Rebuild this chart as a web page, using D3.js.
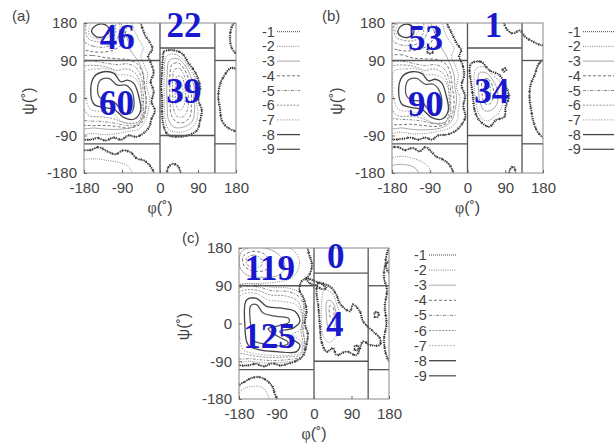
<!DOCTYPE html>
<html>
<head>
<meta charset="utf-8">
<script src="https://cdn.jsdelivr.net/npm/d3@7"></script>
<style>
  body { margin: 0; background: #fff; }
  text { font-family: "Liberation Sans", Arial, sans-serif; fill: #444; }
</style>
</head>
<body>
<svg id="fig" width="614" height="446"></svg>
<script>
// ---- DATA ----
var ticks = [-180, -90, 0, 90, 180];
var levels = [-1, -2, -3, -4, -5, -6, -7, -8, -9];
var panelNames = ["(a)", "(b)", "(c)"];

// region borders [phi1, psi1, phi2, psi2]
var borders = [
  [0, -180, 0, 180], [130, -180, 130, 180],
  [-180, 90, 0, 90], [-180, -110, 0, -110],
  [0, 120, 130, 120], [0, -90, 130, -90],
  [130, 90, 180, 90], [130, -110, 180, -110]
];

// number of residues per region: beta, top middle, alpha-R, alpha-L
var countsA = [46, 22, 60, 39];
var countsB = [53, 1, 90, 34];
var countsC = [119, 0, 125, 4];
// where each count sits (phi, psi)
var anchorsA = [[-101, 118], [57, 146], [-103, -41], [56, -12]];
var anchorsB = [[-100, 116], [62, 146], [-100, -43], [58, -12]];
var anchorsC = [[-106, 103], [52, 132], [-107, -58], [50, -29]];

// contour rings [level, [[phi, psi], ...]]
var ringsA = [
  [-1, [[-185,185],[-50,185],[-42,168],[-35,150],[-25,135],[-18,118],[-28,100],[-22,85],[-15,60],[-22,40],[-15,15],[-20,-10],[-12,-30],[-20,-50],[-26,-70],[-40,-85],[-55,-93],[-75,-90],[-92,-100],[-110,-95],[-128,-102],[-148,-96],[-165,-100],[-185,-95]]],
  [-2, [[-185,175],[-110,188],[-70,182],[-60,160],[-50,140],[-40,120],[-45,100],[-38,80],[-30,60],[-32,30],[-25,0],[-28,-30],[-35,-55],[-50,-75],[-75,-80],[-100,-85],[-130,-88],[-160,-85],[-185,-85]]],
  [-3, [[-185,165],[-150,188],[-100,188],[-85,160],[-75,135],[-70,115],[-60,100],[-50,85],[-40,60],[-38,30],[-33,0],[-35,-30],[-45,-55],[-65,-70],[-95,-75],[-125,-75],[-155,-72],[-185,-70]]],
  [-4, [[-185,98],[-160,102],[-130,97],[-100,94],[-75,92],[-52,80],[-40,55],[-36,25],[-33,-5],[-35,-35],[-45,-62],[-72,-72],[-105,-68],[-135,-66],[-165,-66],[-185,-62]]],
  [-4, [[-185,120],[-165,112],[-140,110],[-110,115],[-90,130],[-82,155],[-80,188],[-185,190]]],
  [-5, [[-185,84],[-155,88],[-125,83],[-100,80],[-76,82],[-56,72],[-44,48],[-40,15],[-39,-15],[-40,-42],[-52,-64],[-80,-66],[-110,-60],[-140,-56],[-170,-55],[-185,-50]]],
  [-5, [[-178,135],[-160,125],[-135,122],[-112,130],[-98,150],[-95,175],[-100,190],[-175,190]]],
  [-6, [[-183,74],[-150,78],[-122,73],[-102,66],[-82,70],[-62,63],[-48,40],[-44,5],[-43,-30],[-50,-56],[-80,-60],[-110,-50],[-140,-45],[-168,-42],[-184,-15],[-186,30]]],
  [-6, [[-172,145],[-150,135],[-128,135],[-108,148],[-105,170],[-110,188],[-170,188]]],
  [-7, [[-176,64],[-145,70],[-115,68],[-100,56],[-82,56],[-62,50],[-48,30],[-42,-5],[-41,-42],[-56,-60],[-88,-58],[-112,-38],[-138,-32],[-164,-28],[-176,0],[-178,35]]],
  [-7, [[-168,152],[-148,142],[-125,145],[-112,160],[-114,178],[-130,186],[-160,185]]],
  [-8, [[-164,11],[-156,51],[-133,63],[-109,59],[-93,39],[-77,43],[-62,35],[-50,3],[-46,-31],[-62,-51],[-85,-47],[-109,-27],[-133,-23],[-156,-15]]],
  [-8, [[-162,160],[-152,174],[-138,178],[-124,172],[-120,160],[-130,149],[-148,146]]],
  [-9, [[-148,19],[-141,43],[-121,47],[-101,31],[-81,31],[-66,15],[-62,-21],[-70,-37],[-89,-33],[-109,-9],[-133,-5],[-144,3]]],
  // alpha-L island
  [-1, [[9,111],[28,115],[52,107],[68,83],[80,67],[88,51],[95,27],[91,-5],[99,-29],[95,-53],[88,-77],[68,-89],[44,-93],[20,-89],[9,-69],[5,-37],[5,-5],[3,27],[5,67],[7,99]]],
  [-2, [[15,100],[35,105],[55,92],[70,70],[82,50],[88,20],[86,-10],[90,-35],[84,-60],[65,-78],[40,-82],[20,-75],[12,-50],[10,-20],[10,20],[10,60]]],
  [-3, [[22,90],[40,95],[58,80],[70,58],[80,30],[80,0],[82,-30],[75,-58],[55,-70],[33,-70],[20,-52],[17,-20],[16,20],[17,60]]],
  [-4, [[28,80],[44,84],[58,68],[68,45],[74,15],[74,-15],[72,-42],[58,-58],[40,-58],[27,-42],[24,-10],[23,30],[24,62]]],
  [-5, [[34,68],[48,70],[58,52],[65,28],[67,0],[65,-28],[55,-45],[40,-44],[32,-25],[30,5],[30,40]]],
  [-6, [[40,52],[52,50],[58,30],[60,5],[56,-20],[46,-30],[38,-15],[36,15],[37,40]]],
  [-7, [[45,35],[53,30],[54,10],[50,-8],[44,-5],[42,15]]],
  // wrap-around pieces
  [-1, [[185,65],[168,72],[155,58],[143,35],[138,5],[142,-25],[147,-55],[162,-72],[185,-78]]],
  [-1, [[185,188],[172,175],[166,150],[170,120],[185,105]]],
  [-1, [[18,-188],[20,-166],[32,-158],[44,-166],[48,-188]]],
  [-1, [[-185,-128],[-165,-125],[-145,-118],[-125,-128],[-105,-135],[-88,-126],[-70,-130],[-55,-145],[-38,-150],[-22,-165],[-15,-188],[-185,-188]]],
  [-2, [[-185,-152],[-155,-146],[-125,-150],[-95,-155],[-75,-165],[-65,-188],[-185,-190]]]
];

var ringsB = [
  [-1, [[-185,185],[-55,185],[-45,170],[-35,150],[-25,130],[-15,115],[-20,100],[-12,80],[-8,55],[-14,30],[-6,5],[-10,-20],[-5,-45],[-15,-65],[-30,-80],[-50,-88],[-70,-90],[-85,-100],[-100,-95],[-118,-100],[-135,-95],[-155,-98],[-185,-95]]],
  [-1, [[-96,110],[-92,121],[-83,118],[-85,107]]],
  [-2, [[-185,175],[-100,188],[-62,182],[-55,160],[-45,140],[-32,120],[-38,100],[-30,80],[-22,55],[-26,25],[-18,0],[-22,-30],[-25,-55],[-42,-72],[-70,-80],[-100,-85],[-130,-86],[-160,-82],[-185,-82]]],
  [-3, [[-185,160],[-150,188],[-95,188],[-80,160],[-70,138],[-60,118],[-50,100],[-40,78],[-32,55],[-30,25],[-26,0],[-30,-30],[-38,-55],[-58,-70],[-90,-76],[-125,-76],[-155,-72],[-185,-70]]],
  [-4, [[-185,98],[-160,104],[-130,96],[-100,94],[-72,92],[-50,80],[-40,55],[-36,25],[-32,-5],[-35,-35],[-46,-58],[-70,-68],[-105,-66],[-135,-63],[-165,-64],[-185,-60]]],
  [-4, [[-185,125],[-165,115],[-140,113],[-110,118],[-88,132],[-78,158],[-76,188],[-185,190]]],
  [-5, [[-185,84],[-155,88],[-125,82],[-100,78],[-76,80],[-56,70],[-44,45],[-40,15],[-40,-15],[-42,-42],[-55,-60],[-80,-62],[-110,-55],[-140,-52],[-170,-50],[-185,-45]]],
  [-5, [[-178,138],[-160,128],[-135,126],[-112,134],[-98,152],[-94,175],[-98,190],[-175,190]]],
  [-6, [[-183,74],[-150,79],[-122,74],[-102,66],[-82,70],[-62,62],[-48,40],[-44,5],[-44,-30],[-52,-56],[-82,-60],[-110,-48],[-140,-44],[-168,-42],[-184,-15],[-186,30]]],
  [-6, [[-172,148],[-150,138],[-128,138],[-108,150],[-104,170],[-108,188],[-170,188]]],
  [-7, [[-176,64],[-145,70],[-115,68],[-100,56],[-82,56],[-62,50],[-48,30],[-42,-5],[-41,-42],[-56,-60],[-88,-58],[-112,-38],[-138,-32],[-164,-28],[-176,0],[-178,35]]],
  [-7, [[-170,156],[-150,146],[-128,148],[-116,162],[-118,178],[-132,186],[-162,186]]],
  [-8, [[-164,11],[-156,51],[-133,63],[-109,59],[-93,41],[-77,45],[-62,37],[-50,3],[-46,-31],[-62,-51],[-85,-47],[-109,-27],[-133,-23],[-156,-15]]],
  [-8, [[-166,158],[-158,173],[-142,177],[-130,170],[-128,156],[-140,146],[-156,147]]],
  [-9, [[-148,19],[-141,43],[-121,47],[-101,33],[-81,33],[-66,15],[-62,-21],[-70,-37],[-89,-33],[-109,-9],[-133,-5],[-144,3]]],
  // alpha-L island
  [-1, [[9,83],[32,87],[52,67],[76,55],[88,35],[99,3],[91,-21],[88,-45],[68,-53],[52,-69],[28,-53],[17,-29],[13,3],[9,35],[5,67]]],
  [-1, [[84,68],[89,72],[92,67],[87,63]]],
  [-2, [[20,70],[40,75],[60,55],[80,35],[88,5],[80,-25],[70,-40],[45,-55],[28,-40],[20,-10],[16,30]]],
  [-3, [[28,60],[45,60],[62,40],[72,15],[70,-15],[55,-30],[40,-30],[30,-10],[26,25]]],
  [-4, [[36,45],[50,45],[60,28],[62,5],[52,-15],[40,-12],[35,10]]],
  [-5, [[42,32],[52,30],[55,12],[48,0],[41,10]]],
  // wrap-around pieces
  [-1, [[185,92],[170,82],[160,55],[150,30],[148,0],[152,-30],[158,-60],[170,-85],[185,-95]]],
  [-1, [[88,190],[92,168],[108,155],[125,162],[138,146],[155,136],[172,128],[185,128],[185,190]]],
  [-1, [[100,-188],[102,-170],[110,-165],[114,-188]]],
  [-1, [[-185,-122],[-165,-118],[-150,-125],[-130,-120],[-115,-128],[-100,-118],[-85,-130],[-75,-140],[-55,-150],[-40,-165],[-35,-188],[-185,-188]]],
  [-2, [[-185,-148],[-160,-140],[-130,-145],[-105,-155],[-90,-170],[-85,-188],[-185,-190]]],
  [-3, [[-185,-165],[-150,-160],[-125,-168],[-115,-188],[-185,-190]]]
];

var ringsC = [
  [-1, [[-185,185],[-20,185],[-12,165],[-5,140],[-12,115],[-30,100],[-35,80],[-25,60],[-18,30],[-22,0],[-15,-25],[-18,-50],[-25,-75],[-40,-88],[-60,-95],[-80,-100],[-100,-95],[-120,-102],[-140,-96],[-160,-100],[-185,-95]]],
  [-1, [[-20,108],[-5,104],[10,98],[22,92],[30,85],[20,82],[5,90],[-10,96]]],
  [-2, [[-185,180],[-90,188],[-50,175],[-35,150],[-40,125],[-55,108],[-80,100],[-120,96],[-160,95],[-185,94]]],
  [-3, [[-175,170],[-150,182],[-110,178],[-80,160],[-70,135],[-85,115],[-120,110],[-160,115],[-178,135]]],
  [-4, [[-170,160],[-148,172],[-120,166],[-105,145],[-115,128],[-145,125],[-168,138]]],
  [-5, [[-162,155],[-145,163],[-128,155],[-125,140],[-142,133],[-160,140]]],
  [-2, [[-185,88],[-140,94],[-100,86],[-60,84],[-30,70],[-25,30],[-28,-10],[-22,-50],[-32,-82],[-70,-92],[-115,-94],[-155,-90],[-185,-88]]],
  [-5, [[-185,80],[-140,88],[-100,78],[-62,76],[-34,62],[-22,28],[-26,-15],[-22,-50],[-28,-78],[-62,-86],[-110,-88],[-150,-84],[-185,-80]]],
  [-6, [[-182,72],[-140,80],[-105,68],[-70,66],[-40,54],[-27,20],[-31,-20],[-26,-50],[-32,-74],[-70,-80],[-120,-80],[-160,-74],[-185,-66]]],
  [-7, [[-177,66],[-140,72],[-110,56],[-80,53],[-42,44],[-28,15],[-34,-17],[-52,-25],[-30,-45],[-32,-70],[-60,-76],[-100,-76],[-140,-72],[-170,-62],[-180,-10]]],
  [-8, [[-162,56],[-138,60],[-114,41],[-82,37],[-46,29],[-34,5],[-50,-11],[-82,-19],[-58,-35],[-34,-51],[-42,-67],[-90,-67],[-130,-63],[-158,-51],[-166,-3]]],
  [-9, [[-152,42],[-138,45],[-122,25],[-90,17],[-62,13],[-60,3],[-84,-5],[-110,-13],[-86,-31],[-62,-45],[-72,-53],[-114,-49],[-144,-41],[-152,-3]]],
  // alpha-L island with tail
  [-1, [[10,96],[38,88],[54,68],[62,48],[86,29],[94,45],[110,29],[118,5],[142,-19],[158,-35],[158,-51],[134,-51],[118,-43],[102,-75],[78,-67],[54,-75],[46,-59],[30,-67],[18,-43],[14,-3],[10,45],[6,76]]],
  [-2, [[25,80],[45,70],[55,45],[62,20],[60,-10],[50,-35],[35,-45],[22,-30],[18,0],[18,40]]],
  [-3, [[32,55],[45,50],[52,30],[52,5],[45,-15],[35,-10],[30,15]]],
  [-4, [[38,42],[46,38],[48,22],[44,10],[38,18]]],
  [-1, [[98,-54],[106,-54],[106,-63],[98,-63]]],
  [-1, [[146,26],[154,26],[154,16],[146,16]]],
  // wrap-around pieces
  [-1, [[185,150],[172,140],[168,110],[175,80],[170,40],[174,0],[168,-40],[175,-80],[185,-95]]],
  [-1, [[185,188],[176,170],[172,140],[180,120],[185,115]]],
  [-1, [[-185,-188],[-182,-150],[-165,-138],[-150,-130],[-130,-128],[-115,-135],[-100,-150],[-95,-165],[-90,-188]]],
  [-2, [[-185,-188],[-175,-160],[-150,-150],[-125,-152],[-112,-168],[-108,-188]]]
];

// ---- STYLES ----
var lineStyle = {
  "-1": { c: "#2a2a2a", w: 1.4, d: "1.2 0.8" },
  "-2": { c: "#777", w: 0.9, d: "1 1.3" },
  "-3": { c: "#aaa", w: 1, d: null },
  "-4": { c: "#666", w: 0.9, d: "3 2" },
  "-5": { c: "#777", w: 0.9, d: "3 1.5 1 1.5" },
  "-6": { c: "#888", w: 0.9, d: "2 1.3" },
  "-7": { c: "#999", w: 0.9, d: "1.5 1.5" },
  "-8": { c: "#444", w: 1.3, d: null },
  "-9": { c: "#555", w: 1.3, d: null }
};

var panels = [
  { name: panelNames[0], rings: ringsA, counts: countsA, anchors: anchorsA,
    left: 84, right: 236, top: 23, bottom: 173, nameX: 12, nameY: 21,
    legX: 262, legY: 31.7, legStep: 14.7, legEnd: 300 },
  { name: panelNames[1], rings: ringsB, counts: countsB, anchors: anchorsB,
    left: 392, right: 543, top: 23, bottom: 173, nameX: 322, nameY: 21,
    legX: 568, legY: 31.7, legStep: 14.7, legEnd: 614 },
  { name: panelNames[2], rings: ringsC, counts: countsC, anchors: anchorsC,
    left: 239, right: 389, top: 248, bottom: 399, nameX: 182, nameY: 243,
    legX: 414, legY: 255, legStep: 15.1, legEnd: 456 }
];

var svg = d3.select("#fig");

panels.forEach(function(p, pi){
  var x = d3.scaleLinear().domain([-180, 180]).range([p.left, p.right]);
  var y = d3.scaleLinear().domain([-180, 180]).range([p.bottom, p.top]);
  var g = svg.append("g");

  var clipId = "clip" + pi;
  svg.append("clipPath").attr("id", clipId).append("rect")
    .attr("x", p.left).attr("y", p.top)
    .attr("width", p.right - p.left).attr("height", p.bottom - p.top);

  // CONTOURS
  var ring = d3.line().x(function(d){ return x(d[0]); }).y(function(d){ return y(d[1]); })
    .curve(d3.curveCatmullRomClosed.alpha(0.5));
  var cg = g.append("g").attr("clip-path", "url(#" + clipId + ")");
  var sorted = p.rings.slice().sort(function(a, b){ return b[0] - a[0]; });
  cg.selectAll("path.ring").data(sorted)
    .enter().append("path").attr("class", "ring")
    .attr("d", function(d){ return ring(d[1]); })
    .attr("fill", "none")
    .attr("stroke", function(d){ return lineStyle[d[0]].c; })
    .attr("stroke-width", function(d){ return lineStyle[d[0]].w; })
    .attr("stroke-dasharray", function(d){ return lineStyle[d[0]].d; })
    .attr("stroke-linejoin", "round");
  // speckled clumps along the lowest level
  cg.selectAll("path.clump").data(sorted.filter(function(d){ return d[0] === -1; }))
    .enter().append("path").attr("class", "clump")
    .attr("d", function(d){ return ring(d[1]); })
    .attr("fill", "none").attr("stroke", "#3a3a3a").attr("stroke-width", 2.6)
    .attr("stroke-dasharray", "0.5 1.4 0.9 2.3 0.4 1.7 1.1 2.6");

  // REGION BORDERS
  g.selectAll("line.border").data(borders).enter().append("line").attr("class", "border")
    .attr("x1", function(d){ return x(d[0]); }).attr("y1", function(d){ return y(d[1]); })
    .attr("x2", function(d){ return x(d[2]); }).attr("y2", function(d){ return y(d[3]); })
    .attr("stroke", "#555").attr("stroke-width", 1.3);

  // FRAME
  g.append("rect").attr("x", p.left).attr("y", p.top)
    .attr("width", p.right - p.left).attr("height", p.bottom - p.top)
    .attr("fill", "none").attr("stroke", "#888").attr("stroke-width", 1);

  // AXES
  var fmt = function(d){ return String(d); };
  var ya = g.append("g").attr("transform", "translate(" + p.left + ",0)")
    .call(d3.axisLeft(y).tickValues(ticks).tickFormat(fmt).tickSizeInner(-3).tickSizeOuter(0).tickPadding(7));
  var xa = g.append("g").attr("transform", "translate(0," + p.bottom + ")")
    .call(d3.axisBottom(x).tickValues(ticks).tickFormat(fmt).tickSizeInner(-3).tickSizeOuter(0).tickPadding(9));
  [ya, xa].forEach(function(a){
    a.select(".domain").remove();
    a.selectAll(".tick line").attr("stroke", "#666");
    a.selectAll(".tick text").attr("font-size", 15)
      .attr("font-family", "Liberation Sans, Arial, sans-serif").attr("fill", "#444");
  });

  // AXIS TITLES
  var cx = (p.left + p.right) / 2, cy = (p.top + p.bottom) / 2;
  var xt = g.append("text").attr("x", cx).attr("y", p.bottom + 40)
    .attr("text-anchor", "middle").attr("font-size", 16);
  xt.append("tspan").attr("font-family", "Liberation Serif, serif").text("\u03c6");
  xt.append("tspan").text("(\u02da)");
  var yt = g.append("text").attr("transform", "translate(" + (p.left - 56) + "," + (cy + 3) + ") rotate(-90)")
    .attr("text-anchor", "middle").attr("dy", "0.35em").attr("font-size", 16);
  yt.append("tspan").text("\u03c8");
  yt.append("tspan").text("(\u02da)");

  // PANEL NAME
  g.append("text").attr("x", p.nameX).attr("y", p.nameY).attr("font-size", 15).text(p.name);

  // COUNTS
  g.selectAll("text.count").data(p.counts).enter().append("text").attr("class", "count")
    .attr("x", function(d, i){ return x(p.anchors[i][0]); })
    .attr("y", function(d, i){ return y(p.anchors[i][1]); })
    .attr("text-anchor", "middle")
    .style("font-family", "Liberation Serif, 'Times New Roman', serif")
    .style("font-weight", "bold").style("font-size", "35px").style("fill", "#1818cf")
    .text(function(d){ return d; });

  // LEGEND
  var lg = g.selectAll("g.leg").data(levels).enter().append("g").attr("class", "leg")
    .attr("transform", function(d, i){ return "translate(" + p.legX + "," + (p.legY + i * p.legStep) + ")"; });
  lg.append("text").attr("y", 5).attr("font-size", 14.5).attr("fill", "#444").text(function(d){ return d; });
  lg.append("line").attr("x1", 15).attr("x2", p.legEnd - p.legX)
    .attr("stroke", function(d){ return d === -1 ? "#444" : lineStyle[d].c; })
    .attr("stroke-width", function(d){ return d === -1 ? 1 : lineStyle[d].w; })
    .attr("stroke-dasharray", function(d){ return d === -1 ? "1 1" : lineStyle[d].d; });
});
</script>
</body>
</html>
